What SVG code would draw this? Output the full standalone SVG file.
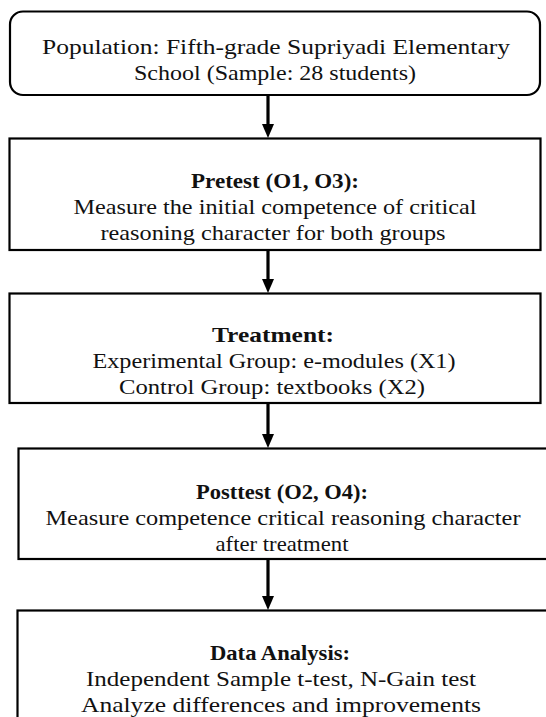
<svg xmlns="http://www.w3.org/2000/svg" width="546" height="717" viewBox="0 0 546 717">
<defs>
<style>
.box{fill:#fff;stroke:#000;stroke-width:2.2}
.t{font-family:"Liberation Serif","Times New Roman",serif;font-size:22px;fill:#111;text-anchor:middle}
.b{font-weight:bold}
.conn{stroke:#000;stroke-width:3.2;fill:none}
.head{fill:#000}
</style>
</defs>
<rect width="546" height="717" fill="#fff"/>
<g id="population">
<rect class="box" x="10" y="11.5" width="530" height="83.5" rx="13"/>
<text class="t" x="276" y="54" textLength="468" lengthAdjust="spacingAndGlyphs">Population: Fifth-grade Supriyadi Elementary</text>
<text class="t" x="275" y="80" textLength="282" lengthAdjust="spacingAndGlyphs">School (Sample: 28 students)</text>
</g>
<g id="pretest">
<rect class="box" x="9.5" y="138.5" width="531" height="111.5"/>
<text class="t b" x="275" y="188" textLength="168" lengthAdjust="spacingAndGlyphs">Pretest (O1, O3):</text>
<text class="t" x="275" y="214" textLength="403" lengthAdjust="spacingAndGlyphs">Measure the initial competence of critical</text>
<text class="t" x="273" y="240" textLength="345" lengthAdjust="spacingAndGlyphs">reasoning character for both groups</text>
</g>
<g id="treatment">
<rect class="box" x="9.5" y="293.5" width="531" height="109.5"/>
<text class="t b" x="273" y="342" textLength="122" lengthAdjust="spacingAndGlyphs">Treatment:</text>
<text class="t" x="274" y="368" textLength="363" lengthAdjust="spacingAndGlyphs">Experimental Group: e-modules (X1)</text>
<text class="t" x="272" y="394" textLength="306" lengthAdjust="spacingAndGlyphs">Control Group: textbooks (X2)</text>
</g>
<g id="posttest">
<rect class="box" x="18.5" y="448.5" width="540" height="110.5"/>
<text class="t b" x="282" y="499" textLength="172" lengthAdjust="spacingAndGlyphs">Posttest (O2, O4):</text>
<text class="t" x="283" y="525" textLength="475" lengthAdjust="spacingAndGlyphs">Measure competence critical reasoning character</text>
<text class="t" x="282" y="551" textLength="133" lengthAdjust="spacingAndGlyphs">after treatment</text>
</g>
<g id="analysis">
<rect class="box" x="17.5" y="610.5" width="540" height="120"/>
<text class="t b" x="280" y="660" textLength="140" lengthAdjust="spacingAndGlyphs">Data Analysis:</text>
<text class="t" x="281" y="686" textLength="390" lengthAdjust="spacingAndGlyphs">Independent Sample t-test, N-Gain test</text>
<text class="t" x="281" y="712" textLength="400" lengthAdjust="spacingAndGlyphs">Analyze differences and improvements</text>
</g>
<g id="connectors">
<line class="conn" x1="268" y1="95" x2="268" y2="125"/>
<polygon class="head" points="262,124 274,124 268,138"/>
<line class="conn" x1="268" y1="250" x2="268" y2="280"/>
<polygon class="head" points="262,279 274,279 268,293"/>
<line class="conn" x1="268" y1="403" x2="268" y2="435"/>
<polygon class="head" points="262,434 274,434 268,448"/>
<line class="conn" x1="268" y1="559" x2="268" y2="597"/>
<polygon class="head" points="262,596 274,596 268,610"/>
</g>
</svg>
